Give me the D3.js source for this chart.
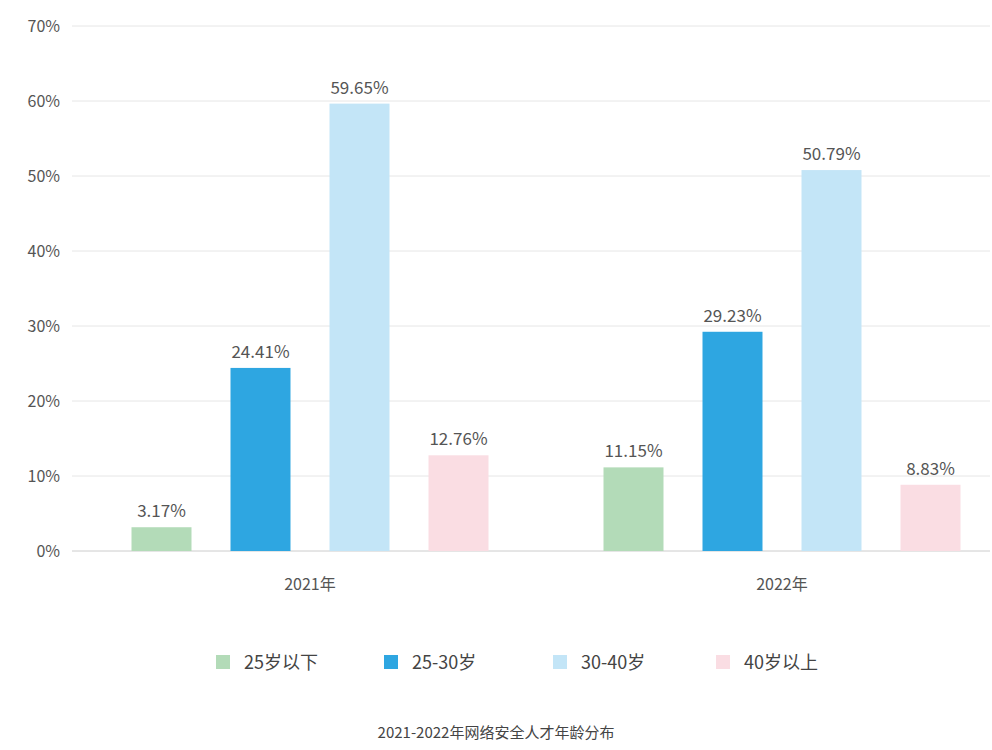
<!DOCTYPE html>
<html><head><meta charset="utf-8">
<script src="https://cdn.jsdelivr.net/npm/d3@7/dist/d3.min.js"></script>
<style>body{margin:0;background:#fff;font-family:"Noto Sans CJK SC","Noto Sans",sans-serif;}</style>
</head><body><svg id="c" width="992" height="750"></svg>
<script>
const years = ["2021年","2022年"];
const series = ["25岁以下","25-30岁","30-40岁","40岁以上"];
const colors = ["#b3dbb8","#2ea6e1","#c3e5f7","#fadde3"];
const values = [[3.17,24.41,59.65,12.76],[11.15,29.23,50.79,8.83]];
const yTicks = [0,10,20,30,40,50,60,70];
const title = "2021-2022年网络安全人才年龄分布";

const svg = d3.select("#c");
const y = d3.scaleLinear().domain([0,70]).range([551,26]);
const x0 = d3.scaleBand().domain(years).range([74,1018]);
const x1 = d3.scaleBand().domain(series).range([0,357]).paddingInner(0.394).paddingOuter(0);
const txt = "#555";

svg.selectAll(".g").data(yTicks).join("line")
 .attr("x1",72).attr("x2",990).attr("y1",d=>y(d)).attr("y2",d=>y(d))
 .attr("stroke",d=>d===0?"#ccc":"#e6e6e6");
svg.selectAll(".yt").data(yTicks).join("text")
 .attr("x",60).attr("y",d=>y(d)+6).attr("text-anchor","end").attr("font-size",16).attr("fill",txt)
 .text(d=>d+"%");
svg.selectAll(".xt").data(years).join("text")
 .attr("x",d=>x0(d)+x0.bandwidth()/2).attr("y",590).attr("text-anchor","middle").attr("font-size",16).attr("fill",txt).text(d=>d);

years.forEach((yr,i)=>{
 const off = x0(yr)+x0.bandwidth()/2-178.5;
 const g = svg.append("g").attr("transform",`translate(${off},0)`);
 g.selectAll("rect").data(series).join("rect")
  .attr("x",s=>x1(s)).attr("width",x1.bandwidth())
  .attr("y",(s,j)=>y(values[i][j])).attr("height",(s,j)=>y(0)-y(values[i][j]))
  .attr("fill",(s,j)=>colors[j]);
 g.selectAll("text").data(series).join("text")
  .attr("x",s=>x1(s)+x1.bandwidth()/2).attr("y",(s,j)=>y(values[i][j])-10)
  .attr("text-anchor","middle").attr("font-size",17).attr("fill",txt)
  .text((s,j)=>values[i][j].toFixed(2)+"%");
});

const lx = [216,384,553,716];
const lg = svg.selectAll(".lg").data(series).join("g").attr("transform",(d,i)=>`translate(${lx[i]},662)`);
lg.append("rect").attr("x",0).attr("y",-7).attr("width",14).attr("height",14).attr("fill",(d,i)=>colors[i]);
lg.append("text").attr("x",28).attr("y",7).attr("font-size",18).attr("fill","#444").text(d=>d);

svg.append("text").attr("x",496).attr("y",738).attr("text-anchor","middle").attr("font-size",15).attr("fill","#444").text(title);
</script></body></html>
